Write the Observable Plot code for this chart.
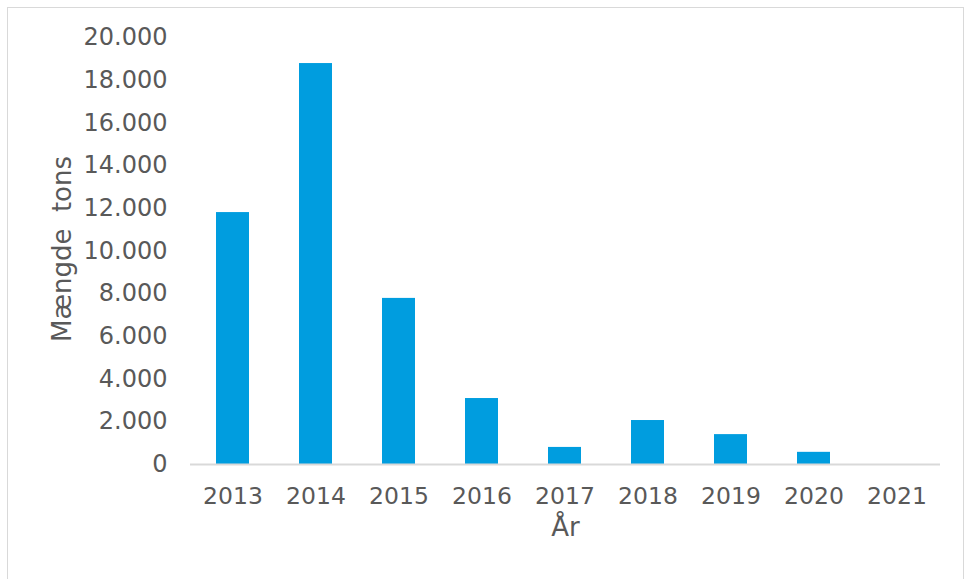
<!DOCTYPE html>
<html>
<head>
<meta charset="utf-8">
<script src="https://cdn.jsdelivr.net/npm/d3@7"></script>
<script src="https://cdn.jsdelivr.net/npm/@observablehq/plot@0.6"></script>
<style>
  html, body { margin: 0; padding: 0; background: #fff; }
  #wrap { position: relative; width: 969px; height: 579px; overflow: hidden; }
  #border { position: absolute; left: 7px; top: 7px; width: 957px; height: 600px; border: 1px solid #d9d9d9; box-sizing: border-box; pointer-events: none; }
  #chart { position: absolute; left: 0; top: 0; }
</style>
</head>
<body>
<div id="wrap"><div id="border"></div><div id="chart"></div></div>
<script>
const years = ["2013", "2014", "2015", "2016", "2017", "2018", "2019", "2020", "2021"];
const tons = [11800, 18780, 7780, 3090, 800, 2060, 1400, 570, 0];
const yTicks = [0, 2000, 4000, 6000, 8000, 10000, 12000, 14000, 16000, 18000, 20000];
const yTitle = "Mængde  tons";
const xTitle = "År";

const data = years.map((y, i) => ({year: y, value: tons[i]}));
const fmt = v => v === 0 ? "0" : d3.format(",")(v).replace(/,/g, ".");
const textColor = "#595959";
const font = "Verdana, 'DejaVu Sans', sans-serif";

const plot = Plot.plot({
  width: 969,
  height: 579,
  marginLeft: 190,
  marginRight: 29,
  marginTop: 37,
  marginBottom: 115,
  style: {fontFamily: font, color: textColor, background: "transparent"},
  x: {domain: years, paddingInner: 0.6, paddingOuter: 0.3},
  y: {domain: [0, 20000]},
  marks: [
    Plot.barY(data, {x: "year", y: "value", fill: "#009ddf"}),
    Plot.ruleY([0], {stroke: "#d9d9d9", strokeWidth: 2}),
    Plot.axisX({tickSize: 0, tickPadding: 23, fontSize: 23.5, label: null, fill: textColor}),
    Plot.axisY({ticks: yTicks, tickFormat: fmt, tickSize: 0, tickPadding: 23, fontSize: 24, label: null, fill: textColor}),
    Plot.text([yTitle], {frameAnchor: "left", textAnchor: "middle", dx: -128, dy: -2, rotate: -90, fontSize: 26, fill: textColor, text: d => d}),
    Plot.text([xTitle], {frameAnchor: "bottom", dy: 71, fontSize: 26, fill: textColor, text: d => d})
  ]
});
document.getElementById("chart").appendChild(plot);
</script>
</body>
</html>
